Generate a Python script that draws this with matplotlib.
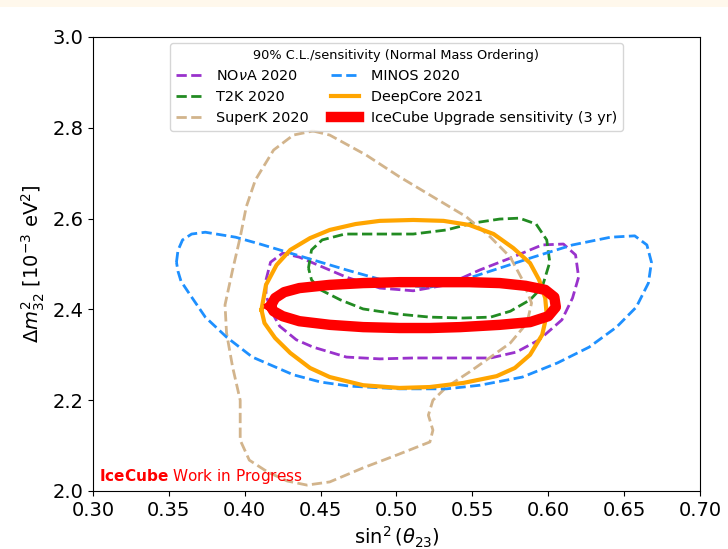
# 90% C.L. contours in the atmospheric mixing plane
###################################################

import numpy as np
import matplotlib.pyplot as plt
from matplotlib.patches import Rectangle

# contour points, sin^2(theta23) and dm^2_32 [1e-3 eV^2]
nova_s2 = [0.414, 0.417, 0.425, 0.436, 0.448, 0.467, 0.489, 0.511, 0.533, 0.555, 0.575, 0.596,
	0.610, 0.618, 0.620, 0.616, 0.609, 0.594, 0.579, 0.562, 0.533, 0.511, 0.489, 0.467, 0.445,
	0.434, 0.423, 0.417, 0.414]
nova_dm2 = [2.465, 2.504, 2.524, 2.515, 2.498, 2.471, 2.447, 2.441, 2.454, 2.487, 2.513, 2.542,
	2.544, 2.520, 2.471, 2.425, 2.377, 2.333, 2.306, 2.293, 2.293, 2.293, 2.291, 2.295, 2.317,
	2.333, 2.363, 2.399, 2.432]

t2k_s2 = [0.442, 0.444, 0.451, 0.466, 0.489, 0.511, 0.533, 0.550, 0.568, 0.581, 0.592, 0.599,
	0.601, 0.596, 0.588, 0.575, 0.562, 0.544, 0.522, 0.500, 0.478, 0.463, 0.450, 0.444]
t2k_dm2 = [2.491, 2.531, 2.553, 2.566, 2.566, 2.566, 2.575, 2.590, 2.599, 2.601, 2.588, 2.553,
	2.504, 2.449, 2.421, 2.396, 2.383, 2.381, 2.383, 2.390, 2.401, 2.421, 2.443, 2.465]

superk_s2 = [0.445, 0.456, 0.480, 0.502, 0.524, 0.546, 0.562, 0.575, 0.583, 0.589, 0.586, 0.575,
	0.562, 0.548, 0.533, 0.524, 0.521, 0.524, 0.522, 0.500, 0.478, 0.456, 0.441, 0.428, 0.415,
	0.403, 0.397, 0.397, 0.392, 0.388, 0.387, 0.392, 0.397, 0.401, 0.407, 0.419, 0.432]
superk_dm2 = [2.793, 2.784, 2.740, 2.692, 2.648, 2.604, 2.559, 2.515, 2.465, 2.414, 2.370, 2.326,
	2.295, 2.262, 2.229, 2.200, 2.167, 2.134, 2.108, 2.079, 2.051, 2.020, 2.013, 2.022, 2.042,
	2.068, 2.112, 2.200, 2.273, 2.348, 2.410, 2.487, 2.559, 2.626, 2.685, 2.751, 2.784]

minos_s2 = [0.355, 0.356, 0.359, 0.365, 0.374, 0.394, 0.410, 0.430, 0.445, 0.467, 0.484, 0.502,
	0.522, 0.544, 0.568, 0.590, 0.616, 0.641, 0.657, 0.665, 0.668, 0.666, 0.658, 0.645, 0.627,
	0.606, 0.583, 0.555, 0.533, 0.502, 0.469, 0.450, 0.432, 0.405, 0.388, 0.374, 0.364, 0.358,
	0.356]
minos_dm2 = [2.504, 2.530, 2.553, 2.566, 2.570, 2.559, 2.544, 2.524, 2.509, 2.487, 2.471, 2.454,
	2.449, 2.465, 2.491, 2.515, 2.542, 2.559, 2.562, 2.542, 2.504, 2.458, 2.405, 2.361, 2.317,
	2.282, 2.251, 2.233, 2.225, 2.225, 2.231, 2.240, 2.256, 2.295, 2.339, 2.383, 2.432, 2.462,
	2.484]

deepcore_s2 = [0.411, 0.414, 0.421, 0.430, 0.443, 0.456, 0.473, 0.489, 0.511, 0.531, 0.548, 0.564,
	0.577, 0.588, 0.594, 0.598, 0.599, 0.596, 0.588, 0.578, 0.566, 0.544, 0.522, 0.502, 0.478,
	0.456, 0.443, 0.430, 0.420, 0.413]
deepcore_dm2 = [2.399, 2.454, 2.498, 2.531, 2.557, 2.575, 2.588, 2.595, 2.597, 2.595, 2.586, 2.566,
	2.535, 2.502, 2.465, 2.425, 2.388, 2.344, 2.300, 2.271, 2.253, 2.238, 2.229, 2.227, 2.233,
	2.251, 2.271, 2.304, 2.337, 2.370]

upgrade_s2 = [0.417, 0.420, 0.426, 0.436, 0.456, 0.478, 0.502, 0.522, 0.548, 0.568, 0.585, 0.598,
	0.604, 0.605, 0.600, 0.588, 0.568, 0.542, 0.522, 0.502, 0.478, 0.456, 0.436, 0.425, 0.419]
upgrade_dm2 = [2.407, 2.425, 2.438, 2.447, 2.454, 2.458, 2.460, 2.460, 2.460, 2.458, 2.452, 2.443,
	2.427, 2.405, 2.385, 2.372, 2.366, 2.361, 2.359, 2.359, 2.361, 2.366, 2.374, 2.385, 2.396]


def closed(a):
	return np.append(a, a[0])


fig = plt.figure(figsize=(7.28, 5.49), dpi=100)
fig.patches.append(Rectangle((0, 1 - 7 / 549), 1, 7 / 549, transform=fig.transFigure,
	facecolor='#fff8ec', edgecolor='none'))
ax = fig.add_axes([93 / 728, 1 - 491 / 549, 607 / 728, 454 / 549])

ax.plot(closed(nova_s2), closed(nova_dm2), '--', color='darkorchid', lw=2, label=r'NO$\nu$A 2020')
ax.plot(closed(t2k_s2), closed(t2k_dm2), '--', color='forestgreen', lw=2, label='T2K 2020')
ax.plot(closed(superk_s2), closed(superk_dm2), '--', color='tan', lw=2, label='SuperK 2020')
ax.plot(closed(minos_s2), closed(minos_dm2), '--', color='dodgerblue', lw=2, label='MINOS 2020')
ax.plot(closed(deepcore_s2), closed(deepcore_dm2), '-', color='orange', lw=3, label='DeepCore 2021')
ax.plot(closed(upgrade_s2), closed(upgrade_dm2), '-', color='red', lw=7.5,
	label='IceCube Upgrade sensitivity (3 yr)')

ax.set_xlim(0.30, 0.70)
ax.set_ylim(2.0, 3.0)
ax.set_xticks(np.arange(0.30, 0.701, 0.05))
ax.set_yticks(np.arange(2.0, 3.01, 0.2))
ax.tick_params(labelsize=14)
ax.set_xlabel(r'$\sin^2(\theta_{23})$', fontsize=14)
ax.set_ylabel(r'$\Delta m^2_{32}\ [10^{-3}\ \mathrm{eV}^2]$', fontsize=14)

ax.legend(loc='upper center', ncol=2, fontsize=10.4, title='90% C.L./sensitivity (Normal Mass Ordering)',
	title_fontsize=9.3, columnspacing=1.5, borderaxespad=0.4)

ax.text(0.01, 0.022, r'$\mathbf{IceCube}$ Work in Progress', transform=ax.transAxes,
	color='red', fontsize=11)

fig.savefig('out.png', dpi=100)
